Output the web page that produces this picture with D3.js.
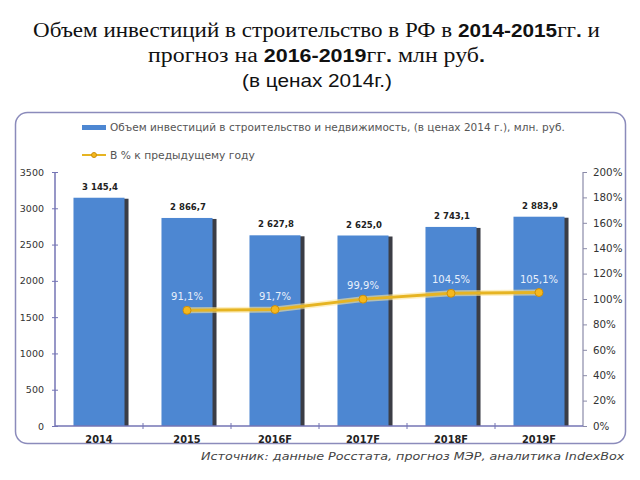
<!DOCTYPE html>
<html><head><meta charset="utf-8">
<script src="https://cdn.jsdelivr.net/npm/d3@7"></script>
<style>body{margin:0;background:#fff}</style>
</head><body>
<svg id="c" width="640" height="480"></svg>
<script>
const categories = ["2014","2015","2016F","2017F","2018F","2019F"];
const volumes = [3145.4, 2866.7, 2627.8, 2625.0, 2743.1, 2883.9];
const pctChange = [null, 91.1, 91.7, 99.9, 104.5, 105.1];
const leftTicks = [0,500,1000,1500,2000,2500,3000,3500];
const rightTicks = [0,20,40,60,80,100,120,140,160,180,200];
const legendBar = "Объем инвестиций в строительство и недвижимость, (в ценах 2014 г.), млн. руб.";
const legendLine = "В % к предыдущему году";
const source = "Источник: данные Росстата, прогноз МЭР, аналитика IndexBox";

const svg = d3.select("#c");
const loc = d3.formatLocale({decimal:",", thousands:" ", grouping:[3], currency:["",""]});
const fVal = loc.format(",.1f");
const fPct = v => loc.format(".1f")(v) + "%";

// helper: horizontally stretch a text to a target width (source picture is stretched)
function fit(textSel, ax, ay, width){
  const w = textSel.node().getComputedTextLength();
  textSel.attr("x",0).attr("y",0).attr("transform",`translate(${ax},${ay}) scale(${width/w},1)`);
}

// Title
const t = svg.append("g").attr("fill","#111");
const l1 = t.append("text").attr("text-anchor","middle").attr("font-family","Liberation Serif").attr("font-size",20);
l1.append("tspan").text("Объем инвестиций в строительство в РФ в ");
l1.append("tspan").attr("font-family","Liberation Sans").attr("font-weight","bold").attr("font-size",18).text("2014-2015");
l1.append("tspan").text("гг");
l1.append("tspan").attr("font-family","Liberation Sans").attr("font-weight","bold").attr("font-size",18).text(".");
l1.append("tspan").text(" и");
fit(l1, 316.5, 37, 567);
const l2 = t.append("text").attr("text-anchor","middle").attr("font-family","Liberation Serif").attr("font-size",20);
l2.append("tspan").text("прогноз на ");
l2.append("tspan").attr("font-family","Liberation Sans").attr("font-weight","bold").attr("font-size",18).text("2016-2019");
l2.append("tspan").text("гг");
l2.append("tspan").attr("font-family","Liberation Sans").attr("font-weight","bold").attr("font-size",18).text(".");
l2.append("tspan").text(" млн руб");
l2.append("tspan").attr("font-family","Liberation Sans").attr("font-weight","bold").attr("font-size",18).text(".");
fit(l2, 316.5, 62, 337);
const l3 = t.append("text").attr("text-anchor","middle").attr("font-family","Liberation Sans").attr("font-size",17.5).text("(в ценах 2014г.)");
fit(l3, 317, 87, 150);

// Frame
svg.append("rect").attr("x",15.5).attr("y",112.5).attr("width",610).attr("height",331).attr("rx",12)
  .attr("fill","#fff").attr("stroke","#8b8bbb").attr("stroke-width",1.5);

const x0 = 55, x1 = 583, yTop = 172, yBot = 426;
const x = d3.scaleBand().domain(categories).range([x0,x1]).paddingInner(0.42).paddingOuter(0.21);
const y = d3.scaleLinear().domain([0,3500]).range([yBot,yTop]);
const yr = d3.scaleLinear().domain([0,200]).range([yBot,yTop]);

// Bars with dark side shadow
const bars = svg.append("g");
categories.forEach((c,i)=>{
  const bx = x(c), bw = x.bandwidth(), by = y(volumes[i]);
  bars.append("rect").attr("x",bx+2).attr("y",by+1).attr("width",bw+2).attr("height",yBot-by-1).attr("fill","#3b3d45");
  bars.append("rect").attr("x",bx).attr("y",by).attr("width",bw).attr("height",yBot-by).attr("fill","#4d87d2");
  bars.append("text").attr("x",bx+bw/2+1).attr("y",by-8).attr("text-anchor","middle")
    .attr("font-family","DejaVu Sans").attr("font-weight","bold").attr("font-size",8.5).attr("fill","#222")
    .text(fVal(volumes[i]));
});

// Left axis
const la = svg.append("g").attr("transform",`translate(${x0},0)`)
  .call(d3.axisLeft(y).tickValues(leftTicks).tickSize(3).tickPadding(8).tickFormat(d3.format("d")));
la.select(".domain").attr("stroke","#7474b4").attr("stroke-width",1.5).attr("d",`M0,${yTop}V${yBot}`);
la.selectAll(".tick line").attr("stroke","#7474b4").attr("x2",-3).attr("x1",3);
la.selectAll(".tick text").attr("font-family","DejaVu Sans").attr("font-size",9.5).attr("fill","#333");

// Right axis
const ra = svg.append("g").attr("transform",`translate(${x1},0)`)
  .call(d3.axisRight(yr).tickValues(rightTicks).tickSize(4).tickPadding(6).tickFormat(d=>d+"%"));
ra.select(".domain").attr("stroke","#8a8aa8").attr("stroke-width",1.2).attr("d",`M0,${yTop}V${yBot}`);
ra.selectAll(".tick line").attr("stroke","#8a8aa8");
ra.selectAll(".tick text").attr("font-family","DejaVu Sans").attr("font-size",10.3).attr("fill","#333");

// Bottom axis
const ba = svg.append("g").attr("transform",`translate(0,${yBot})`)
  .call(d3.axisBottom(x).tickSize(0).tickPadding(10));
ba.select(".domain").attr("stroke","#7474b4").attr("stroke-width",1.5).attr("d",`M${x0},0H${x1}`);
ba.selectAll(".tick text").attr("font-family","DejaVu Sans").attr("font-weight","bold").attr("font-size",9.8).attr("fill","#222");
categories.slice(1).forEach(c=>{
  const bx = x(c) - x.step()*x.paddingInner()/2;
  svg.append("line").attr("x1",bx).attr("x2",bx).attr("y1",yBot-3).attr("y2",yBot+3).attr("stroke","#7474b4");
});

// Line
const pts = categories.map((c,i)=>({c,v:pctChange[i]})).filter(d=>d.v!=null);
const cx = c => x(c)+x.bandwidth()/2;
svg.append("path").datum(pts).attr("fill","none").attr("stroke","#fbe49a").attr("stroke-width",6).attr("opacity",0.6)
  .attr("d",d3.line().x(d=>cx(d.c)).y(d=>yr(d.v)));
svg.append("path").datum(pts).attr("fill","none").attr("stroke","#e6b422").attr("stroke-width",3)
  .attr("d",d3.line().x(d=>cx(d.c)).y(d=>yr(d.v)));
svg.append("g").selectAll("circle").data(pts).join("circle")
  .attr("cx",d=>cx(d.c)).attr("cy",d=>yr(d.v)).attr("r",4).attr("fill","#f6b81c").attr("stroke","#c98e10").attr("stroke-width",1);
svg.append("g").selectAll("text").data(pts).join("text")
  .attr("x",d=>cx(d.c)).attr("y",d=>yr(d.v)-10).attr("text-anchor","middle")
  .attr("font-family","DejaVu Sans").attr("font-size",10).attr("fill","#e8f0fb").text(d=>fPct(d.v));

// Legend
const lg = svg.append("g");
lg.append("rect").attr("x",82).attr("y",125).attr("width",24).attr("height",5).attr("fill","#4d87d2");
const lt1 = lg.append("text").attr("font-family","DejaVu Sans").attr("font-size",10).attr("fill","#555").text(legendBar);
fit(lt1, 110, 131, 455);
lg.append("line").attr("x1",82).attr("x2",106).attr("y1",155).attr("y2",155).attr("stroke","#e6b422").attr("stroke-width",2);
lg.append("circle").attr("cx",94).attr("cy",155).attr("r",2.5).attr("fill","#f6b81c").attr("stroke","#c98e10");
const lt2 = lg.append("text").attr("font-family","DejaVu Sans").attr("font-size",10).attr("fill","#555").text(legendLine);
fit(lt2, 110, 159, 145);

// Source
const st = svg.append("text").attr("text-anchor","start").attr("font-family","DejaVu Sans")
  .attr("font-style","italic").attr("font-size",10.8).attr("fill","#444").text(source);
fit(st, 201, 460, 424);
</script>
</body></html>
